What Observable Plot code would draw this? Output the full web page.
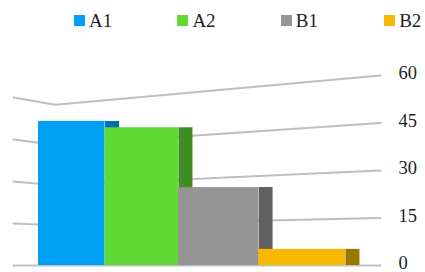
<!DOCTYPE html>
<html><head><meta charset="utf-8">
<script src="https://cdn.jsdelivr.net/npm/d3@7"></script>
<script src="https://cdn.jsdelivr.net/npm/@observablehq/plot@0.6"></script>
<style>
body{margin:0;background:#fff;width:425px;height:272px;overflow:hidden;font-family:"Liberation Serif","Times New Roman","DejaVu Serif",serif;}
#legend{height:40px;display:flex;align-items:center;padding-left:74px;white-space:nowrap;box-sizing:border-box;}
.item{display:flex;align-items:center;width:103.4px;flex:none;font-size:19px;color:#1e1e1e;line-height:1;}
.sw{width:11px;height:11px;margin-right:4px;flex:none;}
#chart svg{display:block;}
#chart svg text{font-family:"Liberation Serif","Times New Roman","DejaVu Serif",serif;}
</style></head><body>
<div id="legend"></div>
<div id="chart"></div>
<script>
// ---- data ----
const categories = ["A1", "A2", "B1", "B2"];
const values = [45.5, 43.5, 24.6, 5.1];
const colors = ["#00A0F4", "#60D936", "#959595", "#F6B800"];
const sideColors = ["#006FAE", "#3F8C22", "#606060", "#9C7700"];
const yTicks = [0, 15, 30, 45, 60];

// ---- perspective layout constants (not data) ----
const OFFSET = 9.37;          // pow-scale offset giving the receding widths
const X_MIN = -0.621, X_MAX = 4.383;
const WALL_FRONT = -0.404, WALL_CORNER = 0.265, WALL_END = 4.383;
const K_FRONT = 0.884, K_CORNER = 0.846;
const DEPTH = 14;

const bars = categories.map((c, i) => ({i, category: c, value: values[i], color: colors[i], side: sideColors[i]}));
const grid = yTicks.flatMap(v => [
  {v, x: WALL_FRONT + OFFSET, y: v * K_FRONT},
  {v, x: WALL_CORNER + OFFSET, y: v * K_CORNER},
  {v, x: WALL_END + OFFSET, y: v}
]);

// legend
const lg = d3.select("#legend");
categories.forEach((c, i) => {
  const it = lg.append("div").attr("class", "item");
  it.append("div").attr("class", "sw").style("background", colors[i]);
  it.append("span").text(c);
});

const chart = Plot.plot({
  width: 425, height: 232,
  marginTop: 35, marginBottom: 7, marginLeft: 0, marginRight: 45,
  x: {type: "pow", exponent: 2, domain: [X_MIN + OFFSET, X_MAX + OFFSET], axis: null},
  y: {domain: [0, 60], axis: null},
  color: {type: "identity"},
  style: {background: "transparent", fontFamily: "'Liberation Serif','Times New Roman','DejaVu Serif',serif", color: "#1e1e1e"},
  marks: [
    Plot.line(grid, {x: "x", y: "y", z: "v", stroke: "#BFBFBF", strokeWidth: 2}),
    Plot.ruleX(bars, {x: d => d.i + 1 + OFFSET, y1: 0, y2: "value", stroke: "side", strokeWidth: DEPTH, dx: DEPTH / 2}),
    Plot.rect(bars, {x1: d => d.i + OFFSET, x2: d => d.i + 1 + OFFSET, y1: 0, y2: "value", fill: "color"}),
    Plot.axisY({anchor: "right", ticks: yTicks, tickSize: 0, tickPadding: 18, fontSize: 18.5, label: null, fill: "#1e1e1e", dy: -2})
  ]
});
document.getElementById("chart").append(chart);
</script>
</body></html>
